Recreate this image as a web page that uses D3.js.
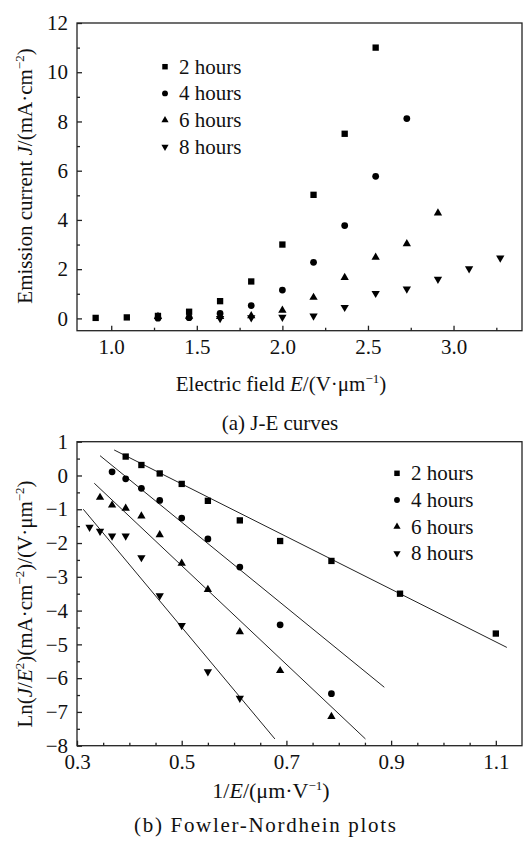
<!DOCTYPE html>
<html>
<head>
<meta charset="utf-8">
<script src="https://cdn.jsdelivr.net/npm/d3@7"></script>
<style>
  body { margin: 0; background: #fff; }
  svg { display: block; }
  text { font-family: "Liberation Serif", "DejaVu Serif", serif; }
  .axis path { display: none; }
  .axis line { stroke: #222; stroke-width: 1.3; }
</style>
</head>
<body>
<svg id="chart"></svg>
<script>
const width = 531;
const height = 843;
const serif = "Liberation Serif";

// series names
const seriesNames = ["2 hours", "4 hours", "6 hours", "8 hours"];

// (a) J-E curves : electric field E (V/um) and current density J (mA/cm2)
const e2h = [0.909, 1.091, 1.273, 1.455, 1.636, 1.818, 2.0, 2.182, 2.364, 2.545];
const j2h = [0.02, 0.04, 0.1, 0.27, 0.7, 1.5, 3.0, 5.02, 7.5, 11.0];
const e4h = [1.273, 1.455, 1.636, 1.818, 2.0, 2.182, 2.364, 2.545, 2.727];
const j4h = [0.01, 0.03, 0.2, 0.52, 1.15, 2.28, 3.77, 5.77, 8.12];
const e6h = [1.273, 1.455, 1.636, 1.818, 2.0, 2.182, 2.364, 2.545, 2.727, 2.909];
const j6h = [0.07, 0.08, 0.07, 0.1, 0.33, 0.85, 1.66, 2.48, 3.03, 4.28];
const e8h = [1.636, 1.818, 2.0, 2.182, 2.364, 2.545, 2.727, 2.909, 3.091, 3.273];
const j8h = [0.0, 0.03, 0.05, 0.1, 0.45, 1.02, 1.2, 1.59, 2.02, 2.46];

// (b) Fowler-Nordheim : 1/E and ln(J/E^2)
const inv2h = [0.393, 0.423, 0.458, 0.5, 0.55, 0.611, 0.688, 0.786, 0.917, 1.1];
const fn2h = [0.56, 0.31, 0.06, -0.25, -0.75, -1.33, -1.94, -2.53, -3.5, -4.68];
const inv4h = [0.367, 0.393, 0.423, 0.458, 0.5, 0.55, 0.611, 0.688, 0.786];
const fn4h = [0.11, -0.1, -0.38, -0.74, -1.26, -1.88, -2.71, -4.42, -6.46];
const inv6h = [0.344, 0.367, 0.393, 0.423, 0.458, 0.5, 0.55, 0.611, 0.688, 0.786];
const fn6h = [-0.65, -0.88, -0.97, -1.2, -1.76, -2.6, -3.38, -4.63, -5.78, -7.14];
const inv8h = [0.324, 0.344, 0.367, 0.393, 0.423, 0.458, 0.5, 0.55, 0.611];
const fn8h = [-1.53, -1.65, -1.79, -1.79, -2.43, -3.56, -4.44, -5.81, -6.59];

// fitted lines : [x1, y1, x2, y2]
const fitLines = [
  [0.371, 0.755, 1.121, -5.09],
  [0.344, 0.586, 0.887, -6.27],
  [0.333, -0.23, 0.851, -7.8],
  [0.312, -1.0, 0.678, -7.8]
];

// tick values
const topXMajor = [1.0, 1.5, 2.0, 2.5, 3.0];
const topXMinor = [1.25, 1.75, 2.25, 2.75, 3.25];
const topYMajor = [0, 2, 4, 6, 8, 10, 12];
const topYMinor = [1, 3, 5, 7, 9, 11];
const botXMajor = [0.3, 0.5, 0.7, 0.9, 1.1];
const botXMinor = [0.35, 0.4, 0.45, 0.55, 0.6, 0.65, 0.75, 0.8, 0.85, 0.95, 1.0, 1.05];
const botYMajor = [-8, -7, -6, -5, -4, -3, -2, -1, 0, 1];
const botYMinor = [-7.5, -6.5, -5.5, -4.5, -3.5, -2.5, -1.5, -0.5, 0.5];

const symbolTypes = [d3.symbolSquare, d3.symbolCircle, d3.symbolTriangle, d3.symbolTriangle];
const symbolSizes = [40, 36, 30, 30];
const symbolRotate = [0, 0, 0, 180];

const svg = d3.select("#chart").attr("width", width).attr("height", height);

let richText = (sel, parts) => {
  let shift = 0;
  parts.forEach((p) => {
    const t = sel.append("tspan").text(p.t);
    if (p.i) t.attr("font-style", "italic");
    if (p.sup) {
      t.attr("font-size", 13).attr("dy", -8 - shift);
      shift = -8;
    } else if (shift !== 0) {
      t.attr("dy", -shift);
      shift = 0;
    }
  });
};

let drawPanel = (cfg) => {
  const g = svg.append("g");
  const x = d3.scaleLinear().domain(cfg.xDomain).range([cfg.left, cfg.right]);
  const y = d3.scaleLinear().domain(cfg.yDomain).range([cfg.bottom, cfg.top]);

  // axes, ticks pointing inward
  g.append("g").attr("class", "axis")
    .attr("transform", "translate(0," + cfg.bottom + ")")
    .call(d3.axisBottom(x).tickValues(cfg.xMajor).tickSize(-5).tickPadding(8).tickFormat(d3.format(".1f")))
    .attr("font-family", serif).attr("font-size", 21);
  g.append("g").attr("class", "axis")
    .attr("transform", "translate(0," + cfg.bottom + ")")
    .call(d3.axisBottom(x).tickValues(cfg.xMinor).tickSize(-3).tickFormat(""));
  g.append("g").attr("class", "axis")
    .attr("transform", "translate(" + cfg.left + ",0)")
    .call(d3.axisLeft(y).tickValues(cfg.yMajor).tickSize(-5).tickPadding(9).tickFormat(d3.format("d")))
    .attr("font-family", serif).attr("font-size", 21);
  g.append("g").attr("class", "axis")
    .attr("transform", "translate(" + cfg.left + ",0)")
    .call(d3.axisLeft(y).tickValues(cfg.yMinor).tickSize(-3).tickFormat(""));
  g.selectAll(".axis text").attr("fill", "#111");

  // frame
  g.append("rect")
    .attr("x", cfg.left).attr("y", cfg.top)
    .attr("width", cfg.right - cfg.left).attr("height", cfg.bottom - cfg.top)
    .attr("fill", "none").attr("stroke", "#222").attr("stroke-width", 1.3);

  // fit lines
  if (cfg.lines) {
    g.selectAll(".fit").data(cfg.lines).enter().append("line")
      .attr("x1", (d) => x(d[0])).attr("y1", (d) => y(d[1]))
      .attr("x2", (d) => x(d[2])).attr("y2", (d) => y(d[3]))
      .attr("stroke", "#222").attr("stroke-width", 1);
  }

  // points
  cfg.series.forEach((s, i) => {
    const pts = s.xs.map((v, k) => [v, s.ys[k]]);
    g.append("g").selectAll("path").data(pts).enter().append("path")
      .attr("d", d3.symbol().type(symbolTypes[i]).size(symbolSizes[i]))
      .attr("transform", (d) => "translate(" + x(d[0]) + "," + y(d[1]) + ") rotate(" + symbolRotate[i] + ")")
      .attr("fill", "#000");
  });

  // legend
  const lg = g.append("g");
  seriesNames.forEach((name, i) => {
    const cy = cfg.legendY + i * 26.7;
    lg.append("path")
      .attr("d", d3.symbol().type(symbolTypes[i]).size(symbolSizes[i] * 0.75))
      .attr("transform", "translate(" + cfg.legendX + "," + cy + ") rotate(" + symbolRotate[i] + ")")
      .attr("fill", "#000");
    lg.append("text")
      .attr("x", cfg.legendX + 14).attr("y", cy + 7)
      .attr("font-family", serif).attr("font-size", 21).attr("fill", "#111")
      .text(name);
  });

  // y label
  const yl = g.append("text")
    .attr("transform", "translate(32," + cfg.yLabelY + ") rotate(-90)")
    .attr("text-anchor", "middle").attr("font-family", serif).attr("font-size", 21).attr("fill", "#111");
  richText(yl, cfg.yLabel);

  // x label
  const xl = g.append("text")
    .attr("x", cfg.xLabelX).attr("y", cfg.xLabelY)
    .attr("text-anchor", "middle").attr("font-family", serif).attr("font-size", cfg.xLabelSize).attr("fill", "#111");
  richText(xl, cfg.xLabel);

  // caption
  const cap = g.append("text")
    .attr("x", cfg.captionX).attr("y", cfg.captionY)
    .attr("text-anchor", "middle").attr("font-family", serif).attr("font-size", 21).attr("fill", "#111")
    .text(cfg.caption);
  if (cfg.captionLength) cap.attr("textLength", cfg.captionLength).attr("lengthAdjust", "spacing");
};

drawPanel({
  left: 77, right: 522, top: 23, bottom: 330.7,
  xDomain: [0.8, 3.4], yDomain: [-0.5, 12],
  xMajor: topXMajor, xMinor: topXMinor, yMajor: topYMajor, yMinor: topYMinor,
  series: [
    { xs: e2h, ys: j2h }, { xs: e4h, ys: j4h }, { xs: e6h, ys: j6h }, { xs: e8h, ys: j8h }
  ],
  legendX: 165, legendY: 66.7,
  yLabelY: 176,
  yLabel: [{ t: "Emission current " }, { t: "J", i: true }, { t: "/(mA·cm" }, { t: "−2", sup: true }, { t: ")" }],
  xLabelX: 281, xLabelY: 391, xLabelSize: 21,
  xLabel: [{ t: "Electric field " }, { t: "E", i: true }, { t: "/(V·μm" }, { t: "−1", sup: true }, { t: ")" }],
  captionX: 280, captionY: 430,
  caption: "(a) J-E curves"
});

drawPanel({
  left: 77, right: 522, top: 441.7, bottom: 745.7,
  xDomain: [0.3, 1.15], yDomain: [-8, 1],
  xMajor: botXMajor, xMinor: botXMinor, yMajor: botYMajor, yMinor: botYMinor,
  series: [
    { xs: inv2h, ys: fn2h }, { xs: inv4h, ys: fn4h }, { xs: inv6h, ys: fn6h }, { xs: inv8h, ys: fn8h }
  ],
  lines: fitLines,
  legendX: 397, legendY: 473.3,
  yLabelY: 604,
  yLabel: [{ t: "Ln(" }, { t: "J", i: true }, { t: "/" }, { t: "E", i: true }, { t: "2", sup: true },
    { t: ")(mA·cm" }, { t: "−2", sup: true }, { t: ")/(V·μm" }, { t: "−2", sup: true }, { t: ")" }],
  xLabelX: 271, xLabelY: 798, xLabelSize: 22,
  xLabel: [{ t: "1/" }, { t: "E", i: true }, { t: "/(μm·V" }, { t: "−1", sup: true }, { t: ")" }],
  captionX: 265, captionY: 832, captionLength: 262,
  caption: "(b) Fowler-Nordhein plots"
});
</script>
</body>
</html>
